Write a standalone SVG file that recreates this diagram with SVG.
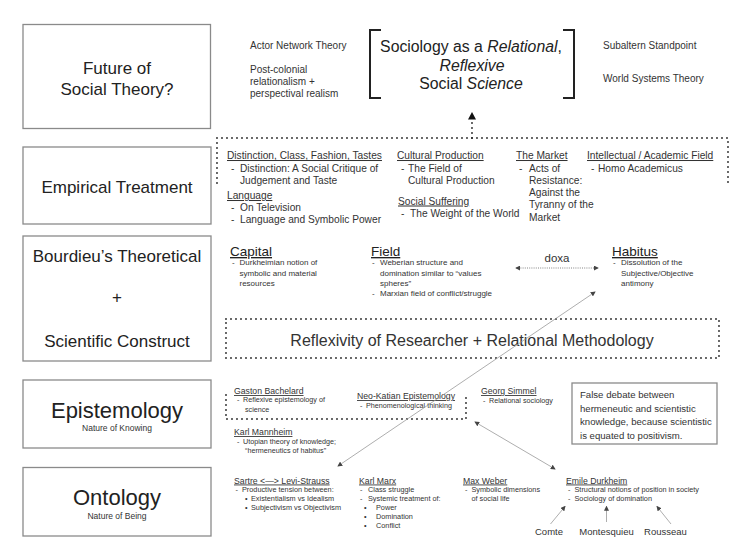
<svg xmlns="http://www.w3.org/2000/svg" width="736" height="552" viewBox="0 0 736 552">
<defs>
<style>
text{font-family:"Liberation Sans",Arial,sans-serif;fill:#333}
.box{fill:#fff;stroke:#8a8a8a;stroke-width:1.3}
.big{font-size:17px;fill:#222;text-anchor:middle}
.huge{font-size:22px;fill:#222;text-anchor:middle}
.tiny{font-size:8.5px;fill:#333;text-anchor:middle}
.s10{font-size:10px}
.e{font-size:10.2px}
.h13{font-size:13.5px;fill:#222;text-decoration:underline}
.b8{font-size:8px}
.h9{font-size:8.7px;text-decoration:underline}
.b7{font-size:7.2px}
.u{text-decoration:underline}
.dot{fill:none;stroke:#222;stroke-width:1.8;stroke-dasharray:0 5;stroke-linecap:round}
.thin{fill:none;stroke:#999;stroke-width:0.8}
.main{font-size:15.8px;fill:#222;text-anchor:middle}
</style>
<marker id="ah" viewBox="0 0 6 6" refX="5" refY="3" markerWidth="5" markerHeight="5" markerUnits="userSpaceOnUse" orient="auto-start-reverse">
<path d="M0,0 L6,3 L0,6 z" fill="#444"/>
</marker>
</defs>
<rect width="736" height="552" fill="#fff"/>

<g id="future">
<rect class="box" x="23" y="24.5" width="187.5" height="104"/>
<text class="big" x="117" y="74">Future of</text>
<text class="big" x="117" y="94.5">Social Theory?</text>
</g>
<g id="empirical">
<rect class="box" x="23" y="147" width="188" height="77"/>
<text class="big" x="117" y="193">Empirical Treatment</text>
</g>
<g id="bourdieu">
<rect class="box" x="23" y="236" width="188" height="125"/>
<text class="big" x="117" y="262">Bourdieu’s Theoretical</text>
<text class="big" x="117" y="303">+</text>
<text class="big" x="117" y="347">Scientific Construct</text>
</g>
<g id="epistemology">
<rect class="box" x="23" y="380" width="188" height="68"/>
<text class="huge" x="117" y="417.5">Epistemology</text>
<text class="tiny" x="117" y="431">Nature of Knowing</text>
</g>
<g id="ontology">
<rect class="box" x="23" y="467.5" width="188" height="68.5"/>
<text class="huge" x="117" y="505">Ontology</text>
<text class="tiny" x="117" y="518.5">Nature of Being</text>
</g>

<g id="social-science">
<path d="M381,30 H370 V98 H381" fill="none" stroke="#222" stroke-width="2"/>
<path d="M563,30 H574 V98 H563" fill="none" stroke="#222" stroke-width="2"/>
<text class="main" x="471" y="52">Sociology as a <tspan font-style="italic">Relational</tspan>,</text>
<text class="main" x="472" y="70.5" font-style="italic">Reflexive</text>
<text class="main" x="471" y="89">Social <tspan font-style="italic">Science</tspan></text>
</g>
<g id="other-theories" class="s10">
<text x="250" y="49">Actor Network Theory</text>
<text x="250" y="72.5">Post-colonial</text>
<text x="250" y="84.5">relationalism +</text>
<text x="250" y="96.5">perspectival realism</text>
<text x="603" y="49">Subaltern Standpoint</text>
<text x="603" y="82">World Systems Theory</text>
</g>

<g id="empirical-works" class="e">
<path class="dot" d="M217,183 V138 H728 V183"/>
<text x="227" y="159" class="u">Distinction, Class, Fashion, Tastes</text>
<text x="231" y="171.5">-</text><text x="240" y="171.5">Distinction: A Social Critique of</text>
<text x="240" y="184">Judgement and Taste</text>
<text x="227" y="199" class="u">Language</text>
<text x="231" y="211">-</text><text x="240" y="211">On Television</text>
<text x="231" y="223">-</text><text x="240" y="223">Language and Symbolic Power</text>
<text x="397" y="159" class="u">Cultural Production</text>
<text x="401" y="171.5">-</text><text x="408" y="171.5">The Field of</text>
<text x="408" y="184">Cultural Production</text>
<text x="398" y="204.5" class="u">Social Suffering</text>
<text x="401" y="216.5">-</text><text x="410" y="216.5">The Weight of the World</text>
<text x="516" y="159" class="u">The Market</text>
<text x="519" y="171.5">-</text><text x="529" y="171.5">Acts of</text>
<text x="529" y="184">Resistance:</text>
<text x="529" y="196">Against the</text>
<text x="529" y="208">Tyranny of the</text>
<text x="529" y="220.5">Market</text>
<text x="587" y="159" class="u">Intellectual / Academic Field</text>
<text x="591" y="171.5">-</text><text x="598" y="171.5">Homo Academicus</text>
</g>

<g id="concepts" class="b8">
<text x="230" y="256" class="h13">Capital</text>
<text x="232" y="265">-</text><text x="239.5" y="265">Durkheimian notion of</text>
<text x="239.5" y="275.5">symbolic and material</text>
<text x="239.5" y="286">resources</text>
<text x="371" y="256" class="h13">Field</text>
<text x="372" y="265">-</text><text x="380" y="265">Weberian structure and</text>
<text x="380" y="275.5">domination similar to “values</text>
<text x="380" y="286">spheres”</text>
<text x="372" y="296">-</text><text x="380" y="296">Marxian field of conflict/struggle</text>
<text x="557" y="262" font-size="11.5" text-anchor="middle">doxa</text>
<text x="612" y="256" class="h13">Habitus</text>
<text x="613" y="265">-</text><text x="621" y="265">Dissolution of the</text>
<text x="621" y="275.5">Subjective/Objective</text>
<text x="621" y="286">antimony</text>
</g>

<g id="reflexivity">
<rect class="dot" x="226" y="319" width="493" height="39"/>
<text x="472" y="346" font-size="16" fill="#222" text-anchor="middle">Reflexivity of Researcher + Relational Methodology</text>
</g>

<g id="epistemology-thinkers" class="b7">
<path class="dot" d="M226,395 V419 H466 V394"/>
<text x="234" y="394" class="h9">Gaston Bachelard</text>
<text x="237" y="402">-</text><text x="243" y="402">Reflexive epistemology of</text>
<text x="245" y="411.5">science</text>
<text x="357" y="399" class="h9">Neo-Katian Epistemology</text>
<text x="360" y="407.5">-</text><text x="366" y="407.5">Phenomenological thinking</text>
<text x="481" y="394" class="h9">Georg Simmel</text>
<text x="483" y="403">-</text><text x="489" y="403">Relational sociology</text>
<text x="234" y="435" class="h9">Karl Mannheim</text>
<text x="237" y="444">-</text><text x="243" y="444">Utopian theory of knowledge;</text>
<text x="245" y="453">“hermeneutics of habitus”</text>
</g>

<g id="false-debate">
<rect class="box" x="572" y="383" width="145" height="61" stroke-width="1.1"/>
<text x="580" y="398" font-size="9.6">False debate between</text>
<text x="580" y="411.5" font-size="9.6">hermeneutic and scientistic</text>
<text x="580" y="425" font-size="9.6">knowledge, because scientistic</text>
<text x="580" y="438.5" font-size="9.6">is equated to positivism.</text>
</g>

<g id="ontology-thinkers" font-size="7.3">
<text x="234" y="483.5" class="h9">Sartre &lt;—&gt; Levi-Strauss</text>
<text x="235.5" y="492">-</text><text x="242" y="492">Productive tension between:</text>
<text x="245" y="501">•</text><text x="251" y="501">Existentialism vs Idealism</text>
<text x="245" y="510">•</text><text x="251" y="510">Subjectivism vs Objectivism</text>
<text x="359" y="483.5" class="h9">Karl Marx</text>
<text x="360" y="492">-</text><text x="368" y="492">Class struggle</text>
<text x="360" y="501">-</text><text x="368" y="501">Systemic treatment of:</text>
<text x="364" y="510">•</text><text x="376" y="510">Power</text>
<text x="364" y="519">•</text><text x="376" y="519">Domination</text>
<text x="364" y="528">•</text><text x="376" y="528">Conflict</text>
<text x="463" y="483.5" class="h9">Max Weber</text>
<text x="465" y="492">-</text><text x="471.5" y="492">Symbolic dimensions</text>
<text x="471.5" y="501">of social life</text>
<text x="566" y="483.5" class="h9">Emile Durkheim</text>
<text x="568" y="492">-</text><text x="574.5" y="492">Structural notions of position in society</text>
<text x="568" y="501">-</text><text x="574.5" y="501">Sociology of domination</text>
</g>
<g id="precursors" font-size="9.5" text-anchor="middle">
<text x="549" y="535">Comte</text>
<text x="606.5" y="535">Montesquieu</text>
<text x="665.5" y="535">Rousseau</text>
</g>

<g id="connectors">
<line class="dot" x1="472" y1="138" x2="472" y2="121" stroke-width="1.6" stroke-dasharray="0 4"/>
<path d="M472,112 L476,119.5 L468,119.5 z" fill="#111"/>
<line x1="516" y1="268" x2="598" y2="268" stroke="#777" stroke-width="0.9" stroke-dasharray="1 1.2" marker-start="url(#ah)" marker-end="url(#ah)"/>
<line class="thin" x1="338" y1="466" x2="595" y2="292" marker-start="url(#ah)" marker-end="url(#ah)"/>
<line class="thin" x1="475" y1="422" x2="555" y2="469" marker-start="url(#ah)" marker-end="url(#ah)"/>
<line class="thin" x1="550.5" y1="524" x2="565" y2="506.5" marker-end="url(#ah)"/>
<line class="thin" x1="606.5" y1="522" x2="606.5" y2="506.5" marker-end="url(#ah)"/>
<line class="thin" x1="671" y1="524" x2="657" y2="506.5" marker-end="url(#ah)"/>
</g>
</svg>
